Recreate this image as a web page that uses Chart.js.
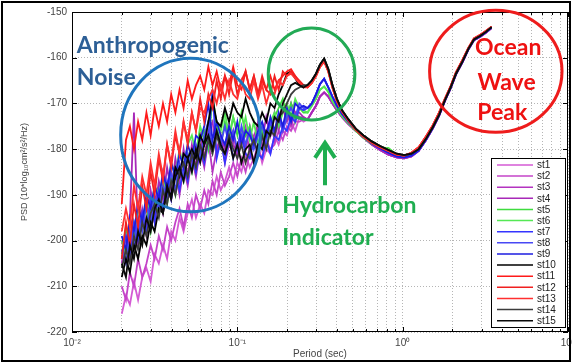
<!DOCTYPE html>
<html>
<head>
<meta charset="utf-8">
<script src="https://cdn.jsdelivr.net/npm/chart.js@4.4.1/dist/chart.umd.min.js"></script>
<style>
  body { margin: 0; background: #fff; }
  #wrap { width: 572px; height: 363px; }
</style>
</head>
<body>
<div id="wrap"><canvas id="psd-chart" width="572" height="363"></canvas></div>
<script>
// periods (sec) - noisy low-period part, then the smooth part
const headPeriods = [0.0200,0.0212,0.0224,0.0237,0.0251,0.0266,0.0282,0.0299,0.0316,0.0335,
  0.0355,0.0376,0.0398,0.0422,0.0447,0.0473,0.0501,0.0531,0.0562,0.0596,
  0.0631,0.0668,0.0708,0.0750,0.0794,0.0841,0.0891,0.0944,0.1000,0.1059,
  0.1122,0.1189,0.1259,0.1334,0.1413,0.1496,0.1585,0.1679,0.1778,0.1884,
  0.1995,0.2113,0.2239,0.2371,0.2512];
const tailPeriods = [0.266,0.282,0.299,0.316,0.335,0.355,0.376,0.40,0.43,0.47,
  0.52,0.58,0.65,0.73,0.82,0.92,1.02,1.13,1.25,1.38,
  1.52,1.66,1.8,1.95,2.1,2.3,2.5,2.7,2.95,3.2,3.45];

// PSD values, low period part (one per station)
const st1 = [-216,-212,-214,-209,-213,-208,-206,-209,-203,-205,-201,-204,-198,-200,-195,-198,-194,-191,-195,-192,-194,-189,-190,-186,-189,-187,-184,-187,-183,-185,-181,-184,-182,-179,-183,-180,-181,-177,-179,-176,-177,-174,-176,-173,-174];
const st2 = [-210,-213,-207,-210,-204,-208,-205,-201,-204,-199,-202,-197,-200,-196,-193,-197,-192,-195,-190,-193,-189,-192,-187,-190,-185,-188,-186,-183,-186,-182,-185,-181,-183,-180,-182,-178,-180,-179,-176,-178,-175,-176,-174,-174,-173.5];
const st3 = [-205,-199,-204,-197,-201,-195,-199,-192,-196,-190,-194,-188,-191,-185,-190,-184,-188,-182,-186,-180,-184,-178,-185,-180,-177,-183,-179,-176,-182,-178,-175,-181,-177,-175,-180,-176,-174,-178,-173,-176,-172,-175,-172,-173,-173];
const st4 = [-200,-204,-195,-172,-199,-193,-197,-189,-194,-187,-191,-184,-189,-182,-187,-180,-186,-179,-184,-177,-182,-176,-174,-181,-177,-180,-175,-179,-181,-176,-180,-175,-179,-174,-178,-173,-177,-172,-176,-171,-174,-170,-172,-172,-173];
const st5 = [-203,-197,-202,-196,-199,-195,-193,-198,-191,-194,-188,-192,-186,-190,-184,-187,-181,-185,-180,-178,-176,-180,-168,-175,-179,-174,-178,-173,-177,-172,-177,-175,-179,-180,-176,-179,-175,-173,-171,-169,-173,-170,-174,-171,-172];
const st6 = [-200,-203,-196,-200,-193,-196,-191,-194,-188,-190,-186,-190,-183,-186,-180,-184,-179,-177,-181,-175,-178,-174,-170,-174,-176,-172,-177,-173,-176,-177,-173,-178,-174,-179,-175,-178,-174,-172,-175,-172,-170,-173,-169,-171,-171.5];
const st7 = [-204,-199,-203,-196,-200,-194,-198,-191,-196,-189,-193,-187,-191,-185,-189,-184,-187,-181,-185,-180,-183,-178,-167,-182,-178,-183,-177,-182,-179,-177,-181,-182,-178,-181,-182,-178,-181,-177,-178,-175,-176,-173,-174,-171,-171.5];
const st8 = [-202,-205,-198,-201,-195,-198,-192,-196,-190,-193,-188,-191,-185,-189,-183,-186,-181,-184,-179,-182,-177,-174,-180,-176,-179,-175,-179,-176,-180,-175,-179,-176,-180,-177,-175,-178,-174,-177,-173,-176,-173,-171,-173,-170,-171];
const st9 = [-199,-202,-195,-198,-192,-196,-190,-193,-188,-191,-185,-189,-183,-186,-181,-184,-179,-182,-177,-178,-175,-170,-178,-174,-177,-179,-175,-178,-174,-179,-176,-177,-179,-176,-174,-177,-173,-176,-172,-175,-171,-174,-170,-171,-170.5];
const st10 = [-208,-204,-207,-201,-204,-199,-201,-196,-198,-193,-194,-189,-190,-184,-186,-181,-182,-180,-182,-177,-179,-174,-169,-174,-175,-171,-174,-170,-172,-173,-169,-172,-174,-175,-172,-174,-170,-171,-168,-166,-163.5,-163,-164.5,-166,-166.5];
const st11 = [-192,-178,-175,-180,-174,-178,-172,-177,-171,-175,-170,-174,-168,-172,-167,-171,-165,-169,-166,-164,-167,-162,-166,-163,-167,-164,-166,-162,-166,-167,-163,-167,-164,-168,-165,-167,-164,-167,-165,-164,-163,-162.5,-164,-165.5,-166];
const st12 = [-204,-196,-201,-192,-197,-188,-193,-185,-190,-182,-187,-179,-184,-177,-181,-174,-179,-172,-176,-169,-174,-168,-171,-165,-169,-164,-168,-163,-168,-165,-163,-167,-164,-168,-164,-167,-168,-164,-167,-163,-164,-163,-164,-165,-166];
const st13 = [-198,-193,-197,-188,-193,-186,-190,-183,-188,-181,-186,-179,-183,-176,-181,-174,-178,-172,-176,-171,-172,-169,-167,-170,-166,-169,-165,-168,-169,-165,-168,-169,-165,-169,-166,-170,-167,-168,-165,-166,-164,-163.5,-164.5,-165.5,-166.5];
const st14 = [-206,-202,-205,-199,-202,-196,-199,-194,-192,-195,-189,-192,-187,-190,-185,-183,-186,-181,-184,-179,-182,-178,-181,-177,-180,-181,-177,-180,-182,-179,-183,-180,-178,-181,-177,-180,-176,-177,-173,-172,-170,-168,-167,-166.5,-166];
const st15 = [-205,-208,-201,-204,-198,-201,-195,-198,-193,-191,-194,-188,-191,-186,-184,-187,-182,-185,-180,-183,-179,-177,-180,-176,-179,-181,-178,-182,-179,-183,-180,-179,-183,-179,-180,-176,-177,-173,-174,-170,-168,-166,-165.5,-166,-166.5];

// smooth part, nearly shared by the stations of one colour group
const tailMagenta = [-173.5,-172,-170.5,-168.5,-167.6,-168.5,-170,-171.5,-173,-174.5,-176,-177.5,-179,-180.2,-181.2,-181.8,-182,-181.6,-180.4,-178.1,-175.5,-172.7,-169.5,-166.7,-163.7,-161,-158.2,-156.2,-155.4,-154.5,-153.5];
const tailGreen = [-172,-170.5,-169,-167,-166.3,-167.5,-169.5,-171,-172.8,-174.3,-176,-177.5,-178.8,-179.6,-179.8,-181.2,-181.5,-181.2,-180.1,-177.9,-175.3,-172.5,-169.3,-166.5,-163.5,-160.8,-158,-156,-155.2,-154.3,-153.3];
const tailBlue = [-171,-170,-168,-165.8,-164.6,-166.5,-168.5,-170.5,-172.3,-174,-175.8,-177.3,-178.7,-179.8,-180.8,-181.6,-181.8,-181.4,-180.3,-178,-175.4,-172.6,-169.4,-166.6,-163.6,-160.9,-158.1,-156.1,-155.3,-154.4,-153.4];
const tailBlack = [-166,-165,-163.5,-161.5,-160.2,-162.5,-166,-169,-171.5,-173.5,-175.5,-177,-178.3,-179.3,-180.2,-181,-181.3,-181,-180,-177.8,-175.2,-172.5,-169.3,-166.5,-163.5,-160.8,-158,-156,-155.2,-154.3,-153.3];
const tailRed = [-166.5,-165.5,-164,-162,-160.8,-163,-166.5,-169.5,-171.8,-173.8,-175.8,-177.3,-178.6,-179.6,-180.4,-181.2,-181.4,-180.8,-179.6,-177.3,-174.8,-172,-169,-166.2,-163.2,-160.5,-157.8,-155.8,-155,-154.1,-153.2];

const seriesNames = ["st1","st2","st3","st4","st5","st6","st7","st8","st9","st10","st11","st12","st13","st14","st15"];
const seriesHeads = [st1,st2,st3,st4,st5,st6,st7,st8,st9,st10,st11,st12,st13,st14,st15];
const seriesTails = [tailMagenta,tailMagenta,tailMagenta,tailMagenta,tailGreen,tailGreen,tailBlue,tailBlue,tailBlue,tailBlack,tailRed,tailRed,tailRed,tailBlack,tailBlack];
const seriesColors = ["#d45ad4","#c444c8","#b433c0","#a829b8","#3fdc3f","#55e855","#3434ff","#4848f4","#1c1ce0","#000000","#ff1a1a","#f02020","#ff3030","#3c3c3c","#0a0a0a"];

const yTicks = [-220,-210,-200,-190,-180,-170,-160,-150];
const xDecades = [0.01, 0.1, 1, 10];
const xDecadeLabels = ["10\u207B\u00B2", "10\u207B\u00B9", "10\u2070", "10\u00B9"];

// annotations, in data units
const circles = [
  { x0: 0.0197, x1: 0.1377, y0: -193.7, y1: -160.1, color: "#1f75bd" },
  { x0: 0.1538, x1: 0.514, y0: -173.6, y1: -153.5, color: "#22aa55" },
  { x0: 1.455, x1: 9.2, y0: -176.3, y1: -149.6, color: "#ee1c1c" }
];
const notes = [
  { text: "Anthropogenic", x: 0.0107, y: -158.9, color: "#2d5f96", align: "left" },
  { text: "Noise", x: 0.0107, y: -166.0, color: "#2d5f96", align: "left" },
  { text: "Hydrocarbon", x: 0.1867, y: -194.0, color: "#1fae50", align: "left" },
  { text: "Indicator", x: 0.1867, y: -201.0, color: "#1fae50", align: "left" },
  { text: "Ocean", x: 4.35, y: -159.4, color: "#ee1111", align: "center" },
  { text: "Wave", x: 4.25, y: -167.1, color: "#ee1111", align: "center" },
  { text: "Peak", x: 4.0, y: -173.6, color: "#ee1111", align: "center" }
];
const arrow = { x: 0.339, yTip: -178.2, yEnd: -187.9, color: "#1fae50" };

const datasets = seriesNames.map((name, i) => ({
  label: name,
  data: headPeriods.map((p, j) => ({ x: p, y: seriesHeads[i][j] }))
    .concat(tailPeriods.map((p, j) => ({ x: p, y: seriesTails[i][j] }))),
  borderColor: seriesColors[i],
  backgroundColor: seriesColors[i],
  borderWidth: 1.8,
  pointRadius: 0,
  fill: false,
  order: seriesNames.length - i
}));

const overlayPlugin = {
  id: "overlay",
  afterDatasetsDraw(chart) {
    const ctx = chart.ctx;
    const xs = chart.scales.x;
    const ys = chart.scales.y;
    const area = chart.chartArea;
    ctx.save();

    // axes box with inner ticks
    ctx.strokeStyle = "#000";
    ctx.lineWidth = 1;
    ctx.strokeRect(area.left + 0.5, area.top + 0.5, area.right - area.left - 1, area.bottom - area.top - 1);
    ctx.beginPath();
    xs.ticks.forEach(t => {
      const xp = Math.round(xs.getPixelForValue(t.value)) + 0.5;
      const len = t.label ? 5 : 3;
      ctx.moveTo(xp, area.bottom); ctx.lineTo(xp, area.bottom - len);
      ctx.moveTo(xp, area.top); ctx.lineTo(xp, area.top + len);
    });
    ys.ticks.forEach(t => {
      const yp = Math.round(ys.getPixelForValue(t.value)) + 0.5;
      ctx.moveTo(area.left, yp); ctx.lineTo(area.left + 5, yp);
      ctx.moveTo(area.right, yp); ctx.lineTo(area.right - 5, yp);
    });
    ctx.stroke();

    // circles
    ctx.lineWidth = 3;
    circles.forEach(c => {
      const l = xs.getPixelForValue(c.x0), r = xs.getPixelForValue(c.x1);
      const t = ys.getPixelForValue(c.y1), b = ys.getPixelForValue(c.y0);
      ctx.strokeStyle = c.color;
      ctx.beginPath();
      ctx.ellipse((l + r) / 2, (t + b) / 2, (r - l) / 2, (b - t) / 2, 0, 0, Math.PI * 2);
      ctx.stroke();
    });

    // arrow
    const ax = xs.getPixelForValue(arrow.x);
    const tip = ys.getPixelForValue(arrow.yTip);
    const end = ys.getPixelForValue(arrow.yEnd);
    ctx.strokeStyle = arrow.color;
    ctx.lineWidth = 4;
    ctx.beginPath();
    ctx.moveTo(ax, end); ctx.lineTo(ax, tip + 2);
    ctx.moveTo(ax - 10, tip + 17); ctx.lineTo(ax, tip + 2); ctx.lineTo(ax + 10, tip + 17);
    ctx.stroke();

    // texts
    ctx.font = "bold 23px Lato, 'Open Sans', sans-serif";
    ctx.textBaseline = "alphabetic";
    notes.forEach(n => {
      ctx.fillStyle = n.color;
      ctx.textAlign = n.align;
      ctx.fillText(n.text, xs.getPixelForValue(n.x), ys.getPixelForValue(n.y));
    });

    // legend box
    const bw = 74, bh = 169;
    const bx = area.right - 3 - bw, by = area.bottom - 5 - bh;
    ctx.fillStyle = "#fff";
    ctx.fillRect(bx, by, bw, bh);
    ctx.strokeStyle = "#000";
    ctx.lineWidth = 1;
    ctx.strokeRect(bx + 0.5, by + 0.5, bw, bh);
    ctx.font = "10px 'Liberation Sans', Arial, sans-serif";
    ctx.textAlign = "left";
    ctx.textBaseline = "middle";
    chart.data.datasets.forEach((ds, i) => {
      const ly = by + 7 + i * 11.12;
      ctx.strokeStyle = ds.borderColor;
      ctx.lineWidth = 1.5;
      ctx.beginPath();
      ctx.moveTo(bx + 6, ly); ctx.lineTo(bx + 42, ly);
      ctx.stroke();
      ctx.fillStyle = "#222";
      ctx.fillText(ds.label, bx + 46, ly + 0.5);
    });
    ctx.restore();
  },
  afterDraw(chart) {
    const ctx = chart.ctx;
    ctx.save();
    ctx.strokeStyle = "#000";
    ctx.lineWidth = 2;
    ctx.strokeRect(2, 2, chart.width - 4, chart.height - 4);
    ctx.restore();
  }
};

const ctx = document.getElementById("psd-chart").getContext("2d");
new Chart(ctx, {
  type: "line",
  data: { datasets: datasets },
  plugins: [overlayPlugin],
  options: {
    responsive: false,
    animation: false,
    layout: { padding: { left: 19, right: 4, top: 12, bottom: 0 } },
    plugins: { legend: { display: false }, tooltip: { enabled: false } },
    elements: { point: { radius: 0 }, line: { tension: 0 } },
    scales: {
      x: {
        type: "logarithmic",
        min: 0.01,
        max: 10,
        afterBuildTicks: (scale) => {
          const ticks = [];
          xDecades.slice(0, 3).forEach(d => {
            for (let m = 1; m < 10; m++) ticks.push({ value: m * d });
          });
          ticks.push({ value: 10 });
          scale.ticks = ticks;
        },
        afterFit: (scale) => { scale.height = 31; scale.paddingLeft = 0; scale.paddingRight = 0; },
        grid: { color: "#b5b5b5", lineWidth: 1, drawTicks: false },
        border: { display: false, dash: [1, 2] },
        ticks: {
          autoSkip: false,
          maxRotation: 0,
          padding: 5,
          color: "#444",
          font: { family: "'Liberation Sans', Arial, sans-serif", size: 10 },
          callback: (value) => {
            const k = xDecades.findIndex(d => Math.abs(value - d) / d < 1e-6);
            return k >= 0 ? xDecadeLabels[k] : "";
          }
        },
        title: {
          display: true,
          text: "Period (sec)",
          color: "#444",
          font: { family: "'Liberation Sans', Arial, sans-serif", size: 10 },
          padding: { top: 0, bottom: 3 }
        }
      },
      y: {
        min: -220,
        max: -150,
        afterBuildTicks: (scale) => { scale.ticks = yTicks.map(v => ({ value: v })); },
        afterFit: (scale) => { scale.width = 53; },
        grid: { color: "#b5b5b5", lineWidth: 1, drawTicks: false },
        border: { display: false, dash: [1, 2] },
        ticks: {
          padding: 5,
          color: "#444",
          font: { family: "'Liberation Sans', Arial, sans-serif", size: 10 }
        },
        title: {
          display: true,
          text: "PSD (10*log\u2081\u2080cm\u00B2/s\u00B2/Hz)",
          color: "#444",
          font: { family: "'Liberation Sans', Arial, sans-serif", size: 9 },
          padding: { top: 0, bottom: 0 }
        }
      }
    }
  }
});
</script>
</body>
</html>
